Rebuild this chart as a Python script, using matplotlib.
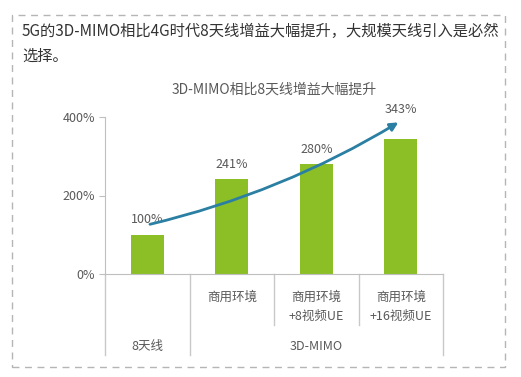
import matplotlib
matplotlib.use("Agg")
from matplotlib import pyplot as plt
from matplotlib.patches import Rectangle
from matplotlib.transforms import blended_transform_factory

plt.rcParams['font.family'] = ['Noto Sans CJK SC', 'DejaVu Sans']

# data
gains = [100, 241, 280, 343]
labels = ['100%', '241%', '280%', '343%']
sub_labels = ['', '商用环境', '商用环境\n+8视频UE', '商用环境\n+16视频UE']
groups = ['8天线', '3D-MIMO']
yticks = [0, 200, 400]

grey = '#595959'
W, H = 521, 377
fig = plt.figure(figsize=(W / 100, H / 100), dpi=100)

# dashed frame and heading
fig.patches.append(Rectangle((12 / W, 1 - 367 / H), 493 / W, 352 / H, transform=fig.transFigure,
                             fill=False, ls=(0, (5, 4)), lw=1, ec='#b5b5b5'))
fig.text(22 / W, 1 - 31 / H, '5G的3D-MIMO相比4G时代8天线增益大幅提升，大规模天线引入是必然',
         fontsize=11, color='#333333', va='center')
fig.text(22 / W, 1 - 56 / H, '选择。', fontsize=11, color='#333333', va='center')

ax = fig.add_axes([105 / W, 1 - 274 / H, 338 / W, 157 / H])
x = range(len(gains))
ax.bar(x, gains, width=0.39, color='#8cbf26')
ax.set_xlim(-0.5, len(gains) - 0.5)
ax.set_ylim(0, 400)
ax.set_yticks(yticks)
ax.set_yticklabels([f'{v}%' for v in yticks], fontsize=9, color=grey)
ax.tick_params(axis='y', length=4, color='#bfbfbf', pad=3)
ax.set_xticks([])
for s in ['top', 'right']:
    ax.spines[s].set_visible(False)
ax.spines['left'].set_color('#bfbfbf')
ax.spines['bottom'].set_color('#bfbfbf')

ax.set_title('3D-MIMO相比8天线增益大幅提升', fontsize=10, color=grey, pad=17)

# value labels
for i, (v, t) in enumerate(zip(gains, labels)):
    off = 77 if i == len(gains) - 1 else 38
    ax.text(i, v + off, t, ha='center', va='center', fontsize=9, color=grey)

# trend arrow
ax.annotate('', xy=(3, gains[-1] + 47), xytext=(0, gains[0] + 25),
            arrowprops=dict(arrowstyle='-|>', color='#2b7fa3', lw=2,
                            connectionstyle='arc3,rad=0.08', mutation_scale=12),
            annotation_clip=False)

# category table below axis
tr = blended_transform_factory(ax.transData, ax.transAxes)
lc = '#c8c8c8'
for xb in [-0.5, 0.5, 3.5]:
    ax.plot([xb, xb], [0, -0.516], color=lc, lw=1, transform=tr, clip_on=False)
for xb in [1.5, 2.5]:
    ax.plot([xb, xb], [0, -0.325], color=lc, lw=1, transform=tr, clip_on=False)
for i, t in enumerate(sub_labels):
    if t:
        ax.text(i, -0.11, t, transform=tr, ha='center', va='top', fontsize=9,
                color=grey, linespacing=1.6)
ax.text(0, -0.459, groups[0], transform=tr, ha='center', va='center', fontsize=9, color=grey)
ax.text(2, -0.459, groups[1], transform=tr, ha='center', va='center', fontsize=9, color=grey)

fig.savefig('out.png', dpi=100)
